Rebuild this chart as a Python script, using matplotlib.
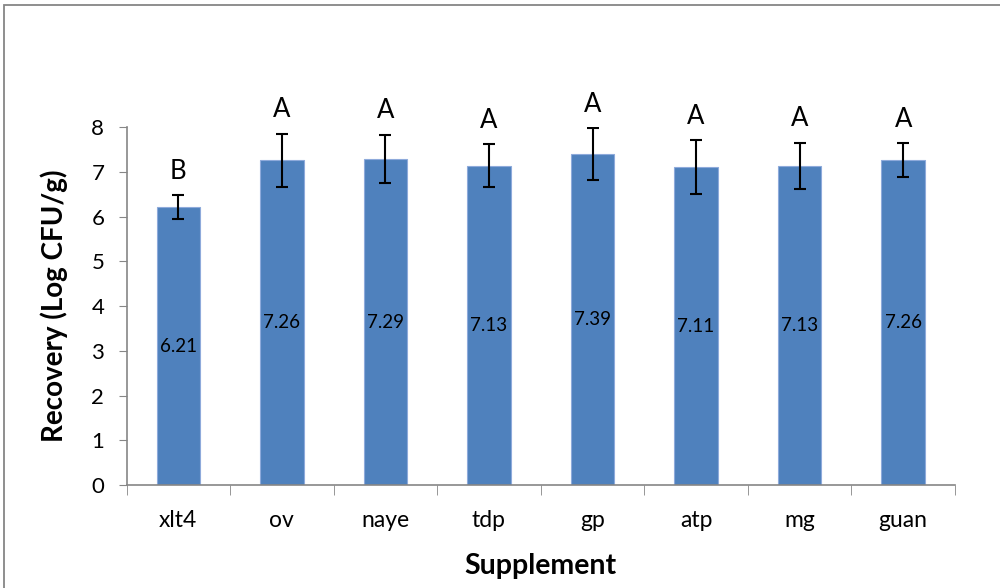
import numpy as np
import matplotlib.pyplot as plt
from matplotlib.patches import Rectangle

plt.rcParams['font.family'] = ['Lato', 'DejaVu Sans']

supplements = ['xlt4', 'ov', 'naye', 'tdp', 'gp', 'atp', 'mg', 'guan']
recovery = [6.21, 7.26, 7.29, 7.13, 7.39, 7.11, 7.13, 7.26]
sd = [0.27, 0.59, 0.54, 0.48, 0.58, 0.60, 0.52, 0.38]
groups = ['B', 'A', 'A', 'A', 'A', 'A', 'A', 'A']

fig = plt.figure(figsize=(10, 5.88), dpi=100)
ax = fig.add_axes([0.1265, 0.1747, 0.8285, 0.6093])

x = np.arange(len(supplements))
ax.bar(x, recovery, width=0.42, color='#4F81BD', edgecolor='#8EAADB', linewidth=0.8, zorder=2)
ax.errorbar(x, recovery, yerr=sd, fmt='none', ecolor='black', elinewidth=1.5,
            capsize=4.5, capthick=1.5, zorder=3)

# values in the middle of each bar, group letters above the error bars
for xi, v, e, g in zip(x, recovery, sd, groups):
    ax.text(xi, v / 2, f'{v:.2f}', ha='center', va='center', fontsize=13.5)
    ax.text(xi, v + e + 0.53, g, ha='center', va='center', fontsize=18.5)

ax.set_xlim(-0.5, len(supplements) - 0.5)
ax.set_ylim(0, 8)
ax.set_yticks(range(0, 9))
ax.tick_params(axis='y', direction='out', length=6, color='#868686', labelsize=16, pad=10)

ax.set_xticks(x)
ax.set_xticklabels(supplements)
ax.set_xticks(np.arange(-0.5, len(supplements)), minor=True)
ax.tick_params(axis='x', which='major', length=0, labelsize=16.5, pad=18)
ax.tick_params(axis='x', which='minor', direction='out', length=7, color='#868686')

for side in ['top', 'right']:
    ax.spines[side].set_visible(False)
for side in ['left', 'bottom']:
    ax.spines[side].set_color('#868686')
    ax.spines[side].set_linewidth(1.2)

ax.set_ylabel('Recovery (Log CFU/g)', fontsize=20, fontweight='bold', labelpad=17)
ax.set_xlabel('Supplement', fontsize=20.5, fontweight='bold', labelpad=16)

# chart frame
fig.patches.append(Rectangle((0.004, -0.1), 1.2, 1.1 - 5 / 588, transform=fig.transFigure,
                             fill=False, edgecolor='#868686', linewidth=1.3))

fig.savefig('out.png', dpi=100)
